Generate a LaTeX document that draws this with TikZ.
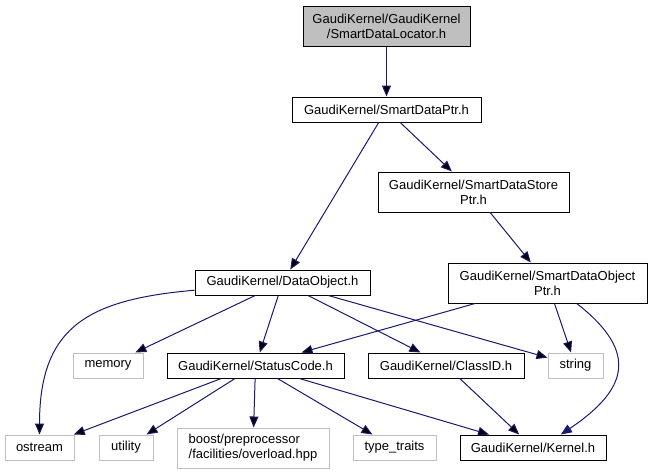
\documentclass[tikz,border=0pt]{standalone}
\usepackage{fontspec}
\setmainfont{Liberation Sans}
\usetikzlibrary{arrows.meta}
\definecolor{edgeblue}{HTML}{191970}
\definecolor{boxgray}{HTML}{BFBFBF}
\tikzset{ f/.style = { rectangle
                     , draw = black
                     , line width   = 1pt
                     , inner sep    = 0pt
                     , minimum height = 25pt
                     , align        = center
                     , font         = \fontsize{13}{15}\selectfont
                     },
          g/.style = { f
                     , draw = boxgray
                     },
          cur/.style = { f
                       , fill = boxgray
                       },
          dep/.style = { draw = edgeblue
                       , line width = 1pt
                       , -{Triangle[length=11pt, width=9pt]}
                       }
        }
\begin{document}
\begin{tikzpicture}[x=1pt, y=1pt]
            \useasboundingbox (0,0) rectangle (653,-475);
            \node[cur, minimum width=167pt, minimum height=40pt] (loc) at (386.5,-26)
                {GaudiKernel/GaudiKernel\\/SmartDataLocator.h};
            \node[f, minimum width=189pt] (ptr) at (386.5,-109.5) {GaudiKernel/SmartDataPtr.h};
            \node[f, minimum width=191pt, minimum height=40pt] (store) at (473.5,-192)
                {GaudiKernel/SmartDataStore\\Ptr.h};
            \node[f, minimum width=175pt] (dobj) at (282.5,-282.5) {GaudiKernel/DataObject.h};
            \node[f, minimum width=199pt, minimum height=40pt] (sdop) at (547.5,-283)
                {GaudiKernel/SmartDataObject\\Ptr.h};
            % second row
            \node[g, minimum width=70pt] (memory) at (108,-365.5) {memory};
            \node[f, minimum width=177pt] (status) at (255.5,-365.5) {GaudiKernel/StatusCode.h};
            \node[f, minimum width=156pt] (classid) at (446,-365.5) {GaudiKernel/ClassID.h};
            \node[g, minimum width=55pt] (string) at (575.5,-365.5) {string};
            % bottom row
            \node[g, minimum width=69pt] (ostream) at (39.5,-447.5) {ostream};
            \node[g, minimum width=54pt] (utility) at (126,-447.5) {utility};
            \node[g, minimum width=152pt, minimum height=40pt, align=left] (boost) at (253,-448)
                {boost/preprocessor\\/facilities/overload.hpp};
            \node[g, minimum width=83pt] (traits) at (394.5,-447.5) {type\_traits};
            \node[f, minimum width=146pt] (kernel) at (533,-447.5) {GaudiKernel/Kernel.h};
            \path[dep] (loc) edge (ptr);
            \path[dep] (ptr) edge (dobj) edge (store);
            \path[dep] (store) edge (sdop);
            \path[dep] (dobj) edge (memory) edge (status) edge (classid) edge (string)
                edge[out=185, in=90, looseness=1.3] (ostream);
            \path[dep] (sdop) edge (status) edge (string);
            \draw[dep] (sdop.-35) .. controls +(-38:80) and +(34:80) .. (kernel.25);
            \path[dep] (status) edge (ostream) edge (utility) edge (boost) edge (traits) edge (kernel);
            \path[dep] (classid) edge (kernel);
            \end{tikzpicture}
\end{document}
